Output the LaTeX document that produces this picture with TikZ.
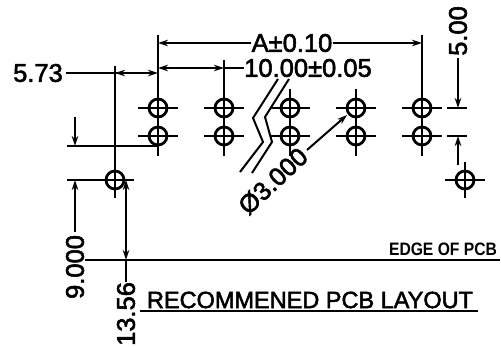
\documentclass[tikz,border=0pt]{standalone}
\usepackage{fontspec}
\setmainfont{Liberation Sans}
\newfontfamily\cadfont{Liberation Sans}[FakeBold=2.2]
\usetikzlibrary{arrows.meta}
\begin{document}
\begin{tikzpicture}[x=1pt,y=-1pt,
	hole/.style={circle, draw=black, line width=2.8pt, inner sep=0pt, minimum size=18pt},
	line/.style={black, line width=2pt},
	heavy/.style={black, line width=2.8pt},
	dim/.style={inner sep=0pt, font=\cadfont\fontsize{25.5}{26}\selectfont},
	title/.style={inner sep=0pt, font=\cadfont\fontsize{23.5}{24}\selectfont},
	edge/.style={inner sep=0pt, font=\bfseries\fontsize{18}{18}\selectfont},
	>={Stealth[length=10pt,width=6.5pt]}]
	\useasboundingbox (0,0) rectangle (501,347);
	
	%Nodes
	\node[hole]	(h1a)	at (158,108) {};
	\node[hole]	(h1b)	at (158,136) {};
	\node[hole]	(h2a)	at (224,108) {};
	\node[hole]	(h2b)	at (224,136) {};
	\node[hole]	(h3a)	at (290,108) {};
	\node[hole]	(h3b)	at (290,136) {};
	\node[hole]	(h4a)	at (356,108) {};
	\node[hole]	(h4b)	at (356,136) {};
	\node[hole]	(h5a)	at (422,108) {};
	\node[hole]	(h5b)	at (422,136) {};
	\node[hole]	(post)	at (115,180) {};
	\node[hole]	(side)	at (465,180) {};
	
	%Labels
	\node[dim]	(lenA)	at (292,43)	{A±0.10};
	\node[dim]	(pitch)	at (308,68)	{10.00±0.05};
	\node[dim]	(off)	at (38,73)	{5.73};
	\node[dim, rotate=90]	(rowgap)	at (458,31)	{5.00};
	\node[dim, rotate=90]	(postx)	at (75,267)	{9.000};
	\node[dim, rotate=90]	(edgey)	at (126,314)	{13.56};
	\node[dim, rotate=43]	(dia)	at (273,181)	{Ø3.000};
	\node[edge, xscale=0.87]	(edgepcb)	at (443,249)	{EDGE OF PCB};
	\node[title]	(layout)	at (310,300)	{RECOMMENED PCB LAYOUT};
	
	%Lines
	\draw[heavy] (h1a.center) -- ++(0,-73);
	\draw[heavy] (h1a.center) -- (h1b.center) -- ++(0,20);
	\draw[heavy] (h2a.center) -- ++(0,-48);
	\draw[heavy] (h2a.center) -- (h2b.center) -- ++(0,20);
	\draw[heavy] (h3a.center) -- ++(0,-19);
	\draw[heavy] (h3a.center) -- (h3b.center) -- ++(0,20);
	\draw[heavy] (h4a.center) -- ++(0,-19);
	\draw[heavy] (h4a.center) -- (h4b.center) -- ++(0,20);
	\draw[line] (h5a.center) -- ++(0,-73);
	\draw[heavy] (h5a.center) -- (h5b.center) -- ++(0,20);
	\draw[heavy] (h1a.center) ++(-20,0) -- ++(40,0);
	\draw[heavy] (h1b.center) ++(-20,0) -- ++(40,0);
	\draw[heavy] (h2a.center) ++(-20,0) -- ++(40,0);
	\draw[heavy] (h2b.center) ++(-20,0) -- ++(40,0);
	\draw[heavy] (h3a.center) ++(-20,0) -- ++(40,0);
	\draw[heavy] (h3b.center) ++(-20,0) -- ++(40,0);
	\draw[heavy] (h4a.center) ++(-20,0) -- ++(40,0);
	\draw[heavy] (h4b.center) ++(-20,0) -- ++(40,0);
	\draw[heavy] (h5a.center) ++(-20,0) -- ++(40,0);
	\draw[heavy] (h5b.center) ++(-20,0) -- ++(40,0);
	\draw[heavy] (side.center) ++(-20,0) -- ++(40,0);
	\draw[heavy] (side.center) ++(0,-18) -- ++(0,36);
	\draw[line] (post.center) ++(0,-114) -- ++(0,132);
	\draw[heavy] (post.center) ++(-48,0) -- ++(67,0);
	
	\draw[line, <-] (h1a.center |- lenA) -- (lenA.west);
	\draw[line, ->] (lenA.east) -- (h5a.center |- lenA);
	\draw[line, <-] (h1a.center |- pitch) -- ++(40,0);
	\draw[line, ->] (198,68) -- (h2a.center |- pitch);
	\draw[line] (h2a.center |- pitch) -- (pitch.west);
	\draw[heavy, ->] (off.east) ++(3,0) -- (h1a.center |- off);
	\draw[line, <-] (post.center |- off) -- ++(30,0);
	\draw[line] (h1b.south) -- ++(-91,0);
	\draw[heavy, ->] (75,117) -- (75,146);
	\draw[heavy, ->] (postx.east) ++(0,-3) -- (postx.center |- post);
	\draw[heavy, <->] (edgey.center |- post) -- (126,260);
	\draw[heavy] (126,260) -- (edgey.east);
	\draw[heavy, ->] (rowgap.west) ++(0,2) -- (rowgap.center |- h5a);
	\draw[heavy] (447,108) -- (467,108);
	\draw[heavy] (447,136) -- (467,136);
	\draw[heavy, <-] (rowgap.center |- h5b) -- ++(0,29);
	\draw[line, ->] (307,150) -- (347,115);
	
	\draw[line] (85,260) -- (500,260);
	\draw[line] (140,311) -- (478,311);
	\draw[line] (278,79) -- (253,118) -- (263,142) -- (240,172);
	\draw[line] (289,79) -- (265,117) -- (272,142) -- (252,173);
\end{tikzpicture}
\end{document}
